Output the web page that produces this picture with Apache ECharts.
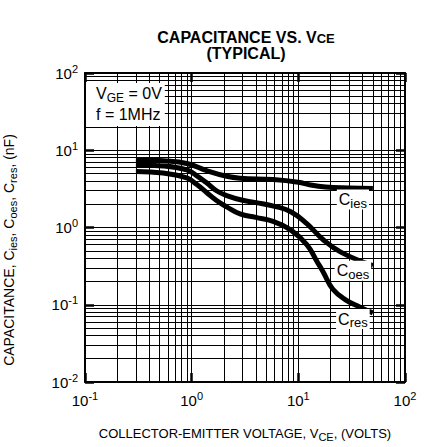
<!DOCTYPE html>
<html><head><meta charset="utf-8">
<script src="https://cdn.jsdelivr.net/npm/echarts@6/dist/echarts.min.js"></script>
<style>html,body{margin:0;padding:0;background:#fff}#c{width:437px;height:447px}</style>
</head><body><div id="c"></div>
<script>
// ---- data ----
const ciesV = [0.3, 0.54, 0.9, 1.38, 2.13, 2.84, 5.8, 10, 13, 18, 30, 50];
const ciesC = [7.6, 7.3, 6.75, 5.46, 4.6, 4.35, 4.17, 3.85, 3.55, 3.35, 3.25, 3.19];
const coesV = [0.3, 0.54, 0.9, 1.11, 1.38, 1.71, 2.13, 3, 4, 6, 8.5, 12, 17, 25, 50];
const coesC = [6.44, 6.26, 5.57, 4.7, 3.79, 2.99, 2.59, 2.25, 2.1, 1.88, 1.6, 1.12, 0.7, 0.48, 0.32];
const cresV = [0.3, 0.54, 0.9, 1.11, 1.38, 1.71, 2.13, 2.84, 4, 5.8, 8.4, 12, 15, 17, 21, 28, 38, 50];
const cresC = [5.3, 5.06, 4.38, 3.62, 2.84, 2.24, 1.85, 1.5, 1.35, 1.2, 0.94, 0.6, 0.36, 0.27, 0.16, 0.115, 0.093, 0.078];
const seriesNames = ['ies', 'oes', 'res'];
const xRange = [0.1, 100];
const yRange = [0.01, 100];
const minorPerDecade = 9;
const titleLine1 = '{t|CAPACITANCE VS. V}{s|CE}';
const titleLine2 = '(TYPICAL)';
const xName = 'COLLECTOR-EMITTER VOLTAGE, V{s|CE}, (VOLTS)';
const yName = 'CAPACITANCE, C{s|ies}, C{s|oes}, C{s|res}, (nF)';
const noteText = 'V{s|GE} = 0V\nf = 1MHz';

// ---- build ----
const FONT = 'Liberation Sans, Arial, sans-serif';
function pairs(xs, ys) { return xs.map((x, i) => [x, ys[i]]); }

function powLabel(v) {
  const e = Math.round(Math.log10(v));
  return '{b|10}{p|' + e + '}';
}
const labelRich = {
  b: { fontSize: 15, fontFamily: FONT, color: '#000', lineHeight: 20 },
  p: { fontSize: 11, fontFamily: FONT, color: '#000', lineHeight: 11, verticalAlign: 'top' }
};
const gridLine = { show: true, lineStyle: { color: '#000', width: 1, type: 'solid' } };
function axisBase(primary) {
  return {
    type: 'log', logBase: 10,
    axisLine: { show: true, onZero: false, lineStyle: { color: '#000', width: 2 } },
    axisTick: { show: true, inside: true, length: 9, lineStyle: { color: '#000', width: 2.5 } },
    minorTick: { show: false, splitNumber: minorPerDecade },
    splitLine: primary ? gridLine : { show: false },
    minorSplitLine: primary ? gridLine : { show: false }
  };
}

const curveData = [pairs(ciesV, ciesC), pairs(coesV, coesC), pairs(cresV, cresC)];
const labelOffsets = [[-20, 11], [-20, 5], [-20, 6]];
const curveSeries = curveData.map((d, i) => ({
  type: 'line', data: d, smooth: 0.45, showSymbol: false, symbol: 'none',
  z: 10, silent: true,
  lineStyle: { color: '#000', width: 5 },
  endLabel: {
    show: true, formatter: 'C{s|' + seriesNames[i] + '}',
    align: 'center', verticalAlign: 'middle', distance: 0, offset: labelOffsets[i],
    backgroundColor: '#fff', padding: [0, 2, 0, 2],
    fontSize: 16, fontFamily: FONT, color: '#000', lineHeight: 20,
    rich: { s: { fontSize: 13, fontFamily: FONT, color: '#000', lineHeight: 6, verticalAlign: 'bottom' } }
  }
}));

const option = {
  animation: false,
  backgroundColor: '#fff',
  grid: { left: 85, right: 32, top: 73, bottom: 53, containLabel: false },
  xAxis: [
    Object.assign(axisBase(true), {
      min: xRange[0], max: xRange[1], position: 'bottom',
      axisLabel: { formatter: powLabel, rich: labelRich, margin: 8, color: '#000' },
      name: xName, nameLocation: 'middle', nameGap: 42,
      nameTextStyle: {
        fontSize: 13, fontFamily: FONT, color: '#000', lineHeight: 18,
        rich: { s: { fontSize: 11, fontFamily: FONT, color: '#000', lineHeight: 7, verticalAlign: 'bottom' } }
      }
    }),
    Object.assign(axisBase(false), { min: xRange[0], max: xRange[1], position: 'top', axisLabel: { show: false } })
  ],
  yAxis: [
    Object.assign(axisBase(true), {
      min: yRange[0], max: yRange[1], position: 'left',
      axisLabel: { formatter: powLabel, rich: labelRich, margin: 7, color: '#000' }
    }),
    Object.assign(axisBase(false), { min: yRange[0], max: yRange[1], position: 'right', axisLabel: { show: false } })
  ],
  graphic: [
    {
      type: 'text', x: 246, y: 29, z: 10,
      style: {
        text: titleLine1, align: 'center', verticalAlign: 'top',
        rich: {
          t: { fontSize: 16, fontWeight: 'bold', fontFamily: FONT, fill: '#000', lineHeight: 16 },
          s: { fontSize: 13, fontWeight: 'bold', fontFamily: FONT, fill: '#000', lineHeight: 3, verticalAlign: 'bottom' }
        }
      }
    },
    {
      type: 'text', x: 246, y: 45.5, z: 10,
      style: {
        text: titleLine2, align: 'center', verticalAlign: 'top',
        fontSize: 16, fontWeight: 'bold', fontFamily: FONT, fill: '#000', lineHeight: 15
      }
    },
    {
      type: 'text', x: 9, y: 250, rotation: Math.PI / 2, z: 10,
      style: {
        text: yName, align: 'center', verticalAlign: 'middle',
        fontSize: 14, fontFamily: FONT, fill: '#000', lineHeight: 18,
        rich: { s: { fontSize: 11, fontFamily: FONT, fill: '#000', lineHeight: 6, verticalAlign: 'bottom' } }
      }
    },
    {
      type: 'text', left: 86, top: 83, z: 10,
      style: {
        text: noteText, fontSize: 16, fontFamily: FONT, fill: '#000', lineHeight: 21,
        backgroundColor: '#fff', padding: [0, 3, 1, 10],
        rich: { s: { fontSize: 12, fontFamily: FONT, fill: '#000', lineHeight: 8, verticalAlign: 'bottom' } }
      }
    }
  ],
  series: curveSeries
};
const chart = echarts.init(document.getElementById('c'), null, { renderer: 'svg' });
chart.setOption(option);
</script></body></html>
